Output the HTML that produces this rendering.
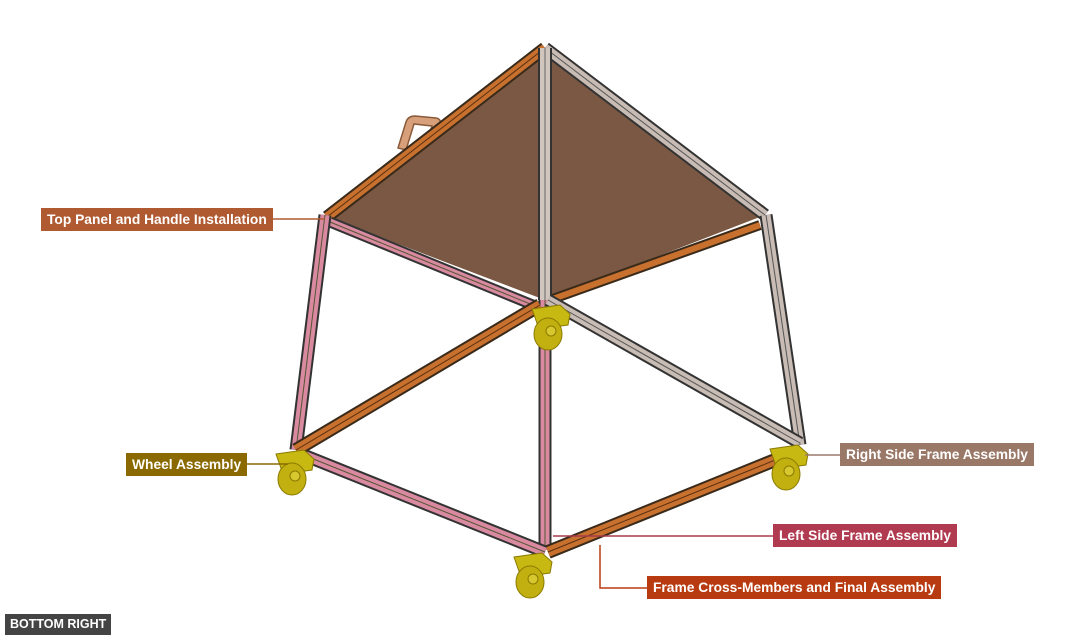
<!DOCTYPE html>
<html><head><meta charset="utf-8"><style>
html,body{margin:0;padding:0;background:#fff;}
body{width:1077px;height:641px;position:relative;overflow:hidden;font-family:"Liberation Sans",sans-serif;}
.lb{position:absolute;color:#fff;font-weight:bold;font-size:13.8px;line-height:23px;padding:0 6px;white-space:nowrap;}
</style></head><body>
<svg width="1077" height="641" style="position:absolute;left:0;top:0">
<defs>
<g id="wheel">
<path d="M-16,-9 L12,-13 L22,-4 L20,7 L-9,11 Z" fill="#c8b812" stroke="#8a7a00" stroke-width="1"/>
<ellipse cx="0" cy="16" rx="14" ry="16" fill="#c2b010" stroke="#8a7a00" stroke-width="1"/>
<ellipse cx="3" cy="13" rx="5" ry="5" fill="#d8c830" stroke="#8a7a00" stroke-width="1"/>
</g>
</defs>
<polygon points="545,50 327,217 545,300 765,215" fill="#7a5843"/>
<!-- handle -->
<path d="M398,148 L406,122 Q408,116 415,116 L436,118 Q442,119 440,126 L436,134 L430,132 L432,126 L414,124 L406,150 Z" fill="#d8a07a" stroke="#8a5a3a" stroke-width="1.5"/>
<g stroke-linecap="butt">
<line x1="545" y1="48" x2="327" y2="217" stroke="#3a2a1a" stroke-width="13"/>
<line x1="545" y1="48" x2="327" y2="217" stroke="#c8702e" stroke-width="9"/>
<line x1="545" y1="48" x2="327" y2="217" stroke="#5a3010" stroke-width="1"/>
<line x1="545" y1="48" x2="765" y2="215" stroke="#333" stroke-width="13"/>
<line x1="545" y1="48" x2="765" y2="215" stroke="#c8bcb4" stroke-width="9"/>
<line x1="545" y1="48" x2="765" y2="215" stroke="#555" stroke-width="1"/>
<line x1="330" y1="222" x2="540" y2="308" stroke="#333" stroke-width="11"/>
<line x1="330" y1="222" x2="540" y2="308" stroke="#d98aa0" stroke-width="7"/>
<line x1="330" y1="222" x2="540" y2="308" stroke="#553" stroke-width="1"/>
<line x1="760" y1="225" x2="550" y2="300" stroke="#3a2a1a" stroke-width="10"/>
<line x1="760" y1="225" x2="550" y2="300" stroke="#c8702e" stroke-width="6"/>
<line x1="325" y1="215" x2="296" y2="450" stroke="#333" stroke-width="13"/>
<line x1="325" y1="215" x2="296" y2="450" stroke="#d98aa0" stroke-width="9"/>
<line x1="325" y1="215" x2="296" y2="450" stroke="#553" stroke-width="1"/>
<line x1="766" y1="215" x2="800" y2="445" stroke="#333" stroke-width="13"/>
<line x1="766" y1="215" x2="800" y2="445" stroke="#c8bcb4" stroke-width="9"/>
<line x1="766" y1="215" x2="800" y2="445" stroke="#555" stroke-width="1"/>
<line x1="545" y1="48" x2="545" y2="300" stroke="#333" stroke-width="14"/>
<line x1="545" y1="48" x2="545" y2="300" stroke="#d0c6be" stroke-width="10"/>
<line x1="545" y1="48" x2="545" y2="300" stroke="#666" stroke-width="1"/>
<line x1="545" y1="300" x2="545" y2="550" stroke="#333" stroke-width="13"/>
<line x1="545" y1="300" x2="545" y2="550" stroke="#d98aa0" stroke-width="9"/>
<line x1="545" y1="300" x2="545" y2="550" stroke="#553" stroke-width="1"/>
<line x1="548" y1="300" x2="800" y2="443" stroke="#333" stroke-width="13"/>
<line x1="548" y1="300" x2="800" y2="443" stroke="#c8bcb4" stroke-width="9"/>
<line x1="548" y1="300" x2="800" y2="443" stroke="#555" stroke-width="1"/>
<line x1="296" y1="452" x2="545" y2="552" stroke="#333" stroke-width="13"/>
<line x1="296" y1="452" x2="545" y2="552" stroke="#d98aa0" stroke-width="9"/>
<line x1="296" y1="452" x2="545" y2="552" stroke="#553" stroke-width="1"/>
<line x1="540" y1="305" x2="296" y2="450" stroke="#3a2a1a" stroke-width="14"/>
<line x1="540" y1="305" x2="296" y2="450" stroke="#c8702e" stroke-width="10"/>
<line x1="540" y1="305" x2="296" y2="450" stroke="#5a3010" stroke-width="1"/>
<line x1="548" y1="552" x2="795" y2="452" stroke="#3a2a1a" stroke-width="14"/>
<line x1="548" y1="552" x2="795" y2="452" stroke="#c8702e" stroke-width="10"/>
<line x1="548" y1="552" x2="795" y2="452" stroke="#5a3010" stroke-width="1"/>
</g>
<use href="#wheel" x="548" y="318"/>
<use href="#wheel" x="292" y="463"/>
<use href="#wheel" x="786" y="458"/>
<use href="#wheel" x="530" y="566"/>
<g stroke-width="1.5" fill="none">
<line x1="273" y1="219" x2="325" y2="219" stroke="#b05a30"/>
<line x1="247" y1="464" x2="288" y2="464" stroke="#8a6a00"/>
<line x1="805" y1="455" x2="840" y2="455" stroke="#9a7a6a"/>
<line x1="553" y1="536" x2="773" y2="536" stroke="#a83a4c"/>
<polyline points="600,545 600,588 647,588" stroke="#b83a10"/>
</g>
</svg>
<div class="lb" style="left:41px;top:208px;background:#b05a32;">Top Panel and Handle Installation</div>
<div class="lb" style="left:126px;top:453px;background:#8a6a00;">Wheel Assembly</div>
<div class="lb" style="left:840px;top:443px;background:#9a7868;">Right Side Frame Assembly</div>
<div class="lb" style="left:773px;top:524px;background:#b03a50;">Left Side Frame Assembly</div>
<div class="lb" style="left:647px;top:576px;background:#b83a10;">Frame Cross-Members and Final Assembly</div>
<div class="lb" style="left:5px;top:614px;background:#444;font-size:12.5px;line-height:21px;padding:0 5px;">BOTTOM RIGHT</div>
</body></html>
